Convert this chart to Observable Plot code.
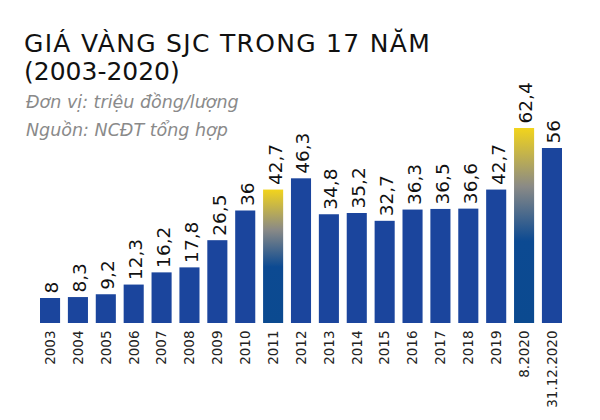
<!DOCTYPE html>
<html>
<head>
<meta charset="utf-8">
<script src="https://cdn.jsdelivr.net/npm/d3@7"></script>
<script src="https://cdn.jsdelivr.net/npm/@observablehq/plot@0.6"></script>
<style>
  html, body { margin: 0; padding: 0; background: #fff; }
  #wrap { position: relative; width: 600px; height: 420px; overflow: hidden; }
  .t { position: absolute; left: 24px; white-space: nowrap; font-family: "DejaVu Sans", sans-serif; color: #111; }
  .title { font-size: 25px; line-height: 30px; }
  .sub { font-size: 17.5px; line-height: 22px; font-style: italic; color: #8a8a8a; left: 26px; }
  #chart { position: absolute; left: 0; top: 0; }
</style>
</head>
<body>
<svg width="0" height="0" style="position:absolute">
  <defs>
    <linearGradient id="gold" x1="0" y1="0" x2="0" y2="1">
      <stop offset="0" stop-color="#f2d41c"/>
      <stop offset="0.3" stop-color="#8a8a86"/>
      <stop offset="0.58" stop-color="#0c4a92"/>
      <stop offset="1" stop-color="#0b4a90"/>
    </linearGradient>
  </defs>
</svg>
<div id="wrap">
  <div id="chart"></div>
  <div class="t title" style="top:29px; letter-spacing:1.3px">GIÁ VÀNG SJC TRONG 17 NĂM</div>
  <div class="t title" style="top:57px">(2003-2020)</div>
  <div class="t sub" style="top:91px">Đơn vị: triệu đồng/lượng</div>
  <div class="t sub" style="top:119px">Nguồn: NCĐT tổng hợp</div>
</div>
<script>
const periods = ["2003","2004","2005","2006","2007","2008","2009","2010","2011","2012","2013","2014","2015","2016","2017","2018","2019","8.2020","31.12.2020"];
const prices = [8, 8.3, 9.2, 12.3, 16.2, 17.8, 26.5, 36, 42.7, 46.3, 34.8, 35.2, 32.7, 36.3, 36.5, 36.6, 42.7, 62.4, 56];
const labels = ["8","8,3","9,2","12,3","16,2","17,8","26,5","36","42,7","46,3","34,8","35,2","32,7","36,3","36,5","36,6","42,7","62,4","56"];
const highlighted = ["2011", "8.2020"];

const data = periods.map((p, i) => ({period: p, price: prices[i], label: labels[i], hi: highlighted.includes(p)}));

const chart = Plot.plot({
  width: 600,
  height: 420,
  marginTop: 73,
  marginBottom: 97,
  marginLeft: 40,
  marginRight: 38,
  style: {fontFamily: "DejaVu Sans, sans-serif", background: "transparent"},
  x: {domain: periods, paddingInner: 0.28, paddingOuter: 0, round: false, label: null},
  y: {domain: [0, 80], axis: null},
  marks: [
    Plot.barY(data.filter(d => !d.hi), {x: "period", y: "price", fill: "#1b459d"}),
    Plot.barY(data.filter(d => d.hi), {x: "period", y: "price", fill: "url(#gold)"}),
    Plot.text(data, {x: "period", y: "price", text: "label", rotate: -90, textAnchor: "start", dx: 2, dy: -5, fontSize: 18.5, fill: "#111"}),
    Plot.axisX({tickRotate: -90, tickSize: 0, tickPadding: 7, fontSize: 13.5, color: "#222"})
  ]
});
document.getElementById("chart").appendChild(chart);
</script>
</body>
</html>
